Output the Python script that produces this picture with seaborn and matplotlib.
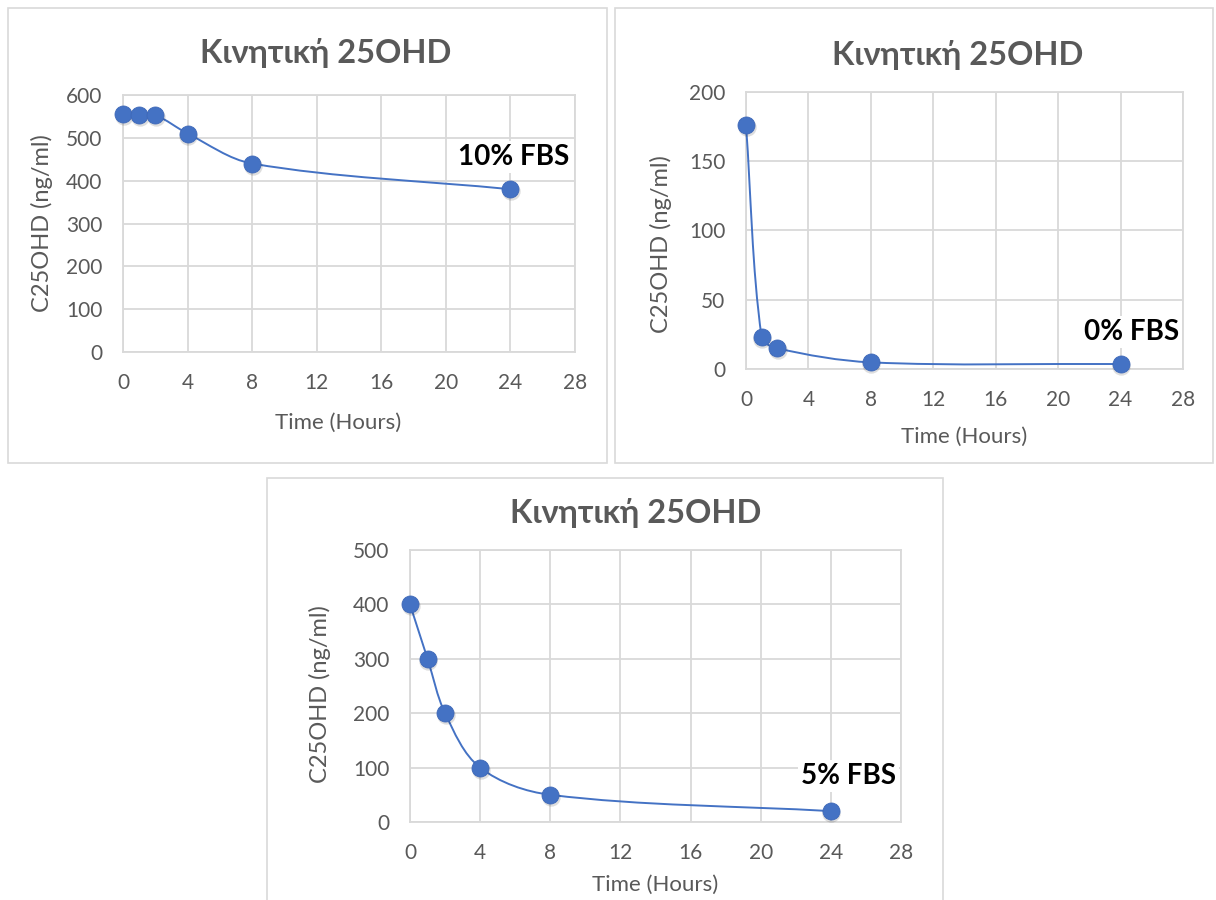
import numpy as np
import seaborn as sns
import matplotlib
matplotlib.use("Agg")
import matplotlib.pyplot as plt
from matplotlib.path import Path
from matplotlib.patches import PathPatch, Rectangle
import matplotlib.transforms as mtransforms

# ---------------- data ----------------
hours_10 = [0, 1, 2, 4, 8, 24]
conc_10 = [555, 553, 553, 510, 440, 380]

hours_0 = [0, 1, 2, 8, 24]
conc_0 = [176, 23, 15, 4.8, 3.6]

hours_5 = [0, 1, 2, 4, 8, 24]
conc_5 = [400, 300, 200, 100, 50, 20]

title_text = "Κινητική 25OHD"
xlabel_text = "Time (Hours)"
ylabel_text = "C25OHD (ng/ml)"
series_labels = ["10% FBS", "0% FBS", "5% FBS"]

x_ticks = [0, 4, 8, 12, 16, 20, 24, 28]
y_ticks_10 = [0, 100, 200, 300, 400, 500, 600]
y_ticks_0 = [0, 50, 100, 150, 200]
y_ticks_5 = [0, 100, 200, 300, 400, 500]

# ---------------- style ----------------
sns.set_theme(style="white")
plt.rcParams["font.family"] = ["Lato", "Noto Sans", "DejaVu Sans"]

BLUE = "#4472C4"
GRID = "#d9d9d9"
TXT = "#595959"

W, H = 1216, 900
fig = plt.figure(figsize=(W / 100, H / 100), dpi=100)
fig.patch.set_facecolor("white")


def px_rect(l, t, r, b):
    return [l / W, 1 - b / H, (r - l) / W, (b - t) / H]


def frame(l, t, r, b):
    fig.add_artist(Rectangle((l / W, 1 - b / H), (r - l) / W, (b - t) / H,
                             transform=fig.transFigure, fill=False,
                             ec=GRID, lw=1.2))


def smooth_line(ax, xs, ys):
    pts = ax.transData.transform(np.column_stack([xs, ys]).astype(float))
    n = len(pts)
    verts = [pts[0]]
    codes = [Path.MOVETO]
    for i in range(n - 1):
        p0 = pts[i - 1] if i > 0 else pts[i]
        p1 = pts[i]
        p2 = pts[i + 1]
        p3 = pts[i + 2] if i + 2 < n else pts[i + 1]
        seg = np.linalg.norm(p2 - p1)
        t1 = p2 - p0
        t1 = t1 / np.linalg.norm(t1)
        t2 = p3 - p1
        t2 = t2 / np.linalg.norm(t2)
        c1 = p1 + t1 * seg * 0.33
        c2 = p2 - t2 * seg * 0.33
        verts += [c1, c2, p2]
        codes += [Path.CURVE4] * 3
    vd = ax.transData.inverted().transform(np.array(verts))
    ax.add_patch(PathPatch(Path(vd, codes), fill=False, ec=BLUE, lw=1.4,
                           transform=ax.transData, zorder=3, clip_on=False))


def panel(rect_px, box_px, xs, ys, yticks, label, label_xy,
          title_xy, xlab_xy, ylab_xy):
    frame(*box_px)
    ax = fig.add_axes(px_rect(*rect_px))
    ax.set_facecolor("white")
    ax.set_xlim(0, 28)
    ax.set_ylim(yticks[0], yticks[-1])
    ax.set_xticks(x_ticks)
    ax.set_yticks(yticks)
    ax.grid(True, color=GRID, lw=1.3)
    ax.set_axisbelow(True)
    for s in ax.spines.values():
        s.set_color(GRID)
        s.set_linewidth(1.3)
    ax.tick_params(length=0, pad=15, labelsize=15, labelcolor=TXT)

    smooth_line(ax, xs, ys)
    shadow = mtransforms.offset_copy(ax.transData, fig=fig, x=0.5, y=-2.0,
                                     units="dots")
    ax.scatter(xs, ys, s=175, color="black", alpha=0.13, lw=0,
               transform=shadow, zorder=3.5, clip_on=False)
    sns.scatterplot(x=xs, y=ys, ax=ax, s=150, color=BLUE, edgecolor="#3e68b8",
                    linewidth=0.6, zorder=4, clip_on=False, legend=False)

    ax.set_title(title_text, fontsize=23.5, fontweight="bold", color=TXT,
                 x=title_xy[0], y=title_xy[1], va="baseline", pad=0)
    ax.set_xlabel(xlabel_text, fontsize=16, color=TXT)
    ax.xaxis.set_label_coords(*xlab_xy)
    ax.xaxis.label.set_va("center")
    ax.set_ylabel(ylabel_text, fontsize=17, color=TXT)
    ax.yaxis.set_label_coords(*ylab_xy)
    ax.yaxis.label.set_va("center")

    ax.text(label_xy[0], label_xy[1], label, fontsize=20, fontweight="bold",
            color="black", ha="center", va="center", zorder=5,
            bbox=dict(fc="white", ec="none", pad=2))
    return ax


panel((123, 95, 575, 352), (8, 8, 607, 463), hours_10, conc_10, y_ticks_10,
      series_labels[0], (24.2, 455), (0.449, 1.125), (0.476, -0.276),
      (-0.179, 0.5))
panel((746, 92, 1183, 369), (615, 8, 1213, 463), hours_0, conc_0, y_ticks_0,
      series_labels[1], (24.7, 26.7), (0.485, 1.097), (0.5, -0.245),
      (-0.194, 0.45))
panel((410, 550, 901, 822), (267, 478, 943, 910), hours_5, conc_5, y_ticks_5,
      series_labels[2], (25.0, 84.6), (0.46, 1.099), (0.5, -0.232),
      (-0.183, 0.47))

fig.savefig("out.png", dpi=100, facecolor="white")
